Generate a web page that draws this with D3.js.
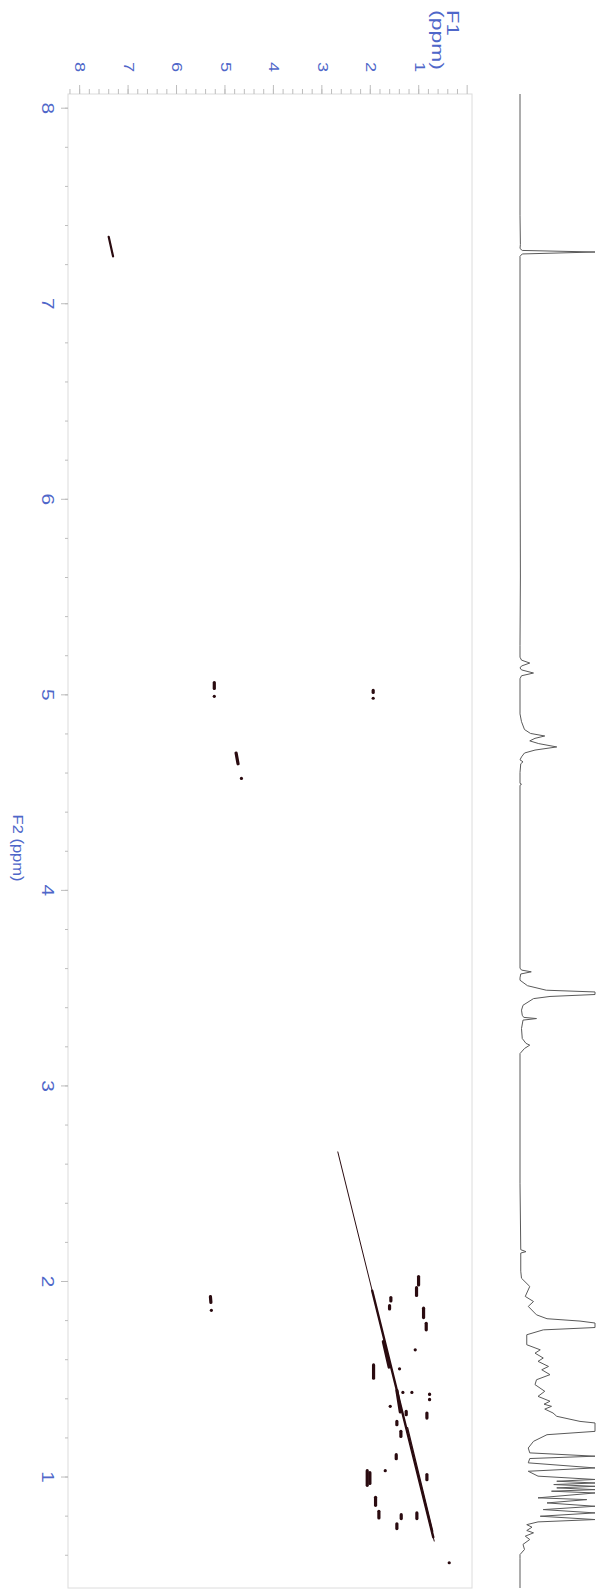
<!DOCTYPE html>
<html>
<head>
<meta charset="utf-8">
<script src="https://cdn.jsdelivr.net/npm/d3@7"></script>
<style>
  body { margin: 0; background: #fff; }
  svg { display: block; font-family: "Liberation Sans", Arial, sans-serif; }
</style>
</head>
<body>
<div id="chart"></div>
<script>
// tick labels (ppm)
const f1Labels = [8, 7, 6, 5, 4, 3, 2, 1];
const f2Labels = [8, 7, 6, 5, 4, 3, 2, 1];

// 1D proton trace along F2: [ppm, intensity]
const trace = [
  [8.07, 0], [7.45, 0], [7.30, 0.5], [7.28, -1], [7.27, 3], [7.262, 300], [7.252, 3], [7.24, 0],
  [6.50, 0], [5.60, 0.5], [5.25, 0], [5.19, 0], [5.175, 2], [5.160, 13], [5.145, 2], [5.135, 0],
  [5.125, 2], [5.109, 18], [5.095, 2], [5.08, 0], [4.90, 0], [4.86, 2], [4.82, 6], [4.80, 14],
  [4.787, 33], [4.775, 20], [4.762, 13], [4.748, 25], [4.731, 49], [4.715, 20], [4.70, 6],
  [4.68, 2], [4.665, 0], [4.655, 4], [4.645, 1], [4.60, 0], [4.545, 0], [4.54, 2], [4.535, 0],
  [3.80, 0], [3.60, -1], [3.590, 2], [3.581, 15], [3.570, 1], [3.550, -4], [3.538, 0], [3.51, 10],
  [3.487, 35], [3.478, 300], [3.465, 300], [3.455, 40], [3.444, 18], [3.410, 4], [3.385, 2],
  [3.359, 3], [3.348, 5], [3.342, 22], [3.334, 4], [3.291, 2], [3.240, 3], [3.215, 8], [3.206, 13],
  [3.189, 6], [3.163, 0], [2.50, 0], [2.16, 1], [2.150, 8], [2.143, 1], [2.05, 1], [2.014, 2],
  [1.972, 13], [1.921, 7], [1.895, 18], [1.870, 11], [1.827, 22], [1.807, 36], [1.795, 80],
  [1.785, 300], [1.762, 300], [1.755, 60], [1.750, 31], [1.725, 9], [1.674, 9], [1.648, 27],
  [1.631, 20], [1.606, 31], [1.589, 24], [1.563, 38], [1.546, 29], [1.521, 40], [1.495, 22],
  [1.470, 20], [1.436, 33], [1.410, 24], [1.385, 40], [1.370, 32], [1.359, 42], [1.345, 33],
  [1.325, 44], [1.308, 49], [1.282, 80], [1.274, 300], [1.231, 300], [1.214, 36], [1.180, 18],
  [1.146, 11], [1.121, 13], [1.104, 300], [1.092, 13], [1.070, 11], [1.044, 300], [1.027, 11],
  [1.002, 24], [0.985, 300], [0.976, 49], [0.967, 300], [0.959, 45], [0.950, 300], [0.942, 49],
  [0.933, 300], [0.925, 42], [0.916, 300], [0.891, 24], [0.882, 89], [0.865, 36], [0.848, 300],
  [0.831, 31], [0.814, 300], [0.797, 27], [0.780, 300], [0.768, 24], [0.754, 9], [0.741, 16],
  [0.724, 9], [0.712, 18], [0.695, 7], [0.678, 13], [0.653, 4], [0.627, 6], [0.601, 0],
  [0.58, -1], [0.43, -1]
];

// diagonal contour pieces: [f1 start, f2 start, f1 end, f2 end]
const diagonal = [
  [2.66, 2.66, 0.67, 0.67],
  [1.95, 1.95, 0.69, 0.69],
  [1.22, 1.25, 0.70, 0.72]
];

// cross peaks (small contour pieces): [f1 start, f2 start, f1 end, f2 end]
const crossPeaks = [
  [7.39, 7.34, 7.30, 7.24],
  [5.21, 5.06, 5.21, 5.03], [5.21, 4.99, 5.21, 4.99],
  [1.93, 5.02, 1.93, 5.01], [1.93, 4.98, 1.93, 4.98],
  [4.76, 4.70, 4.72, 4.645], [4.65, 4.57, 4.65, 4.57],
  [5.29, 1.92, 5.28, 1.89], [5.27, 1.85, 5.27, 1.85],
  [0.993, 2.023, 0.993, 1.980], [1.035, 1.966, 1.035, 1.926],
  [1.565, 1.915, 1.565, 1.898], [1.592, 1.874, 1.592, 1.857],
  [0.890, 1.861, 0.890, 1.813], [0.835, 1.784, 0.835, 1.750],
  [1.062, 1.648, 1.062, 1.648], [1.922, 1.571, 1.922, 1.503],
  [1.386, 1.551, 1.386, 1.551], [1.131, 1.430, 1.131, 1.430],
  [0.766, 1.422, 0.766, 1.420], [0.766, 1.395, 0.766, 1.393],
  [1.317, 1.430, 1.317, 1.430], [1.578, 1.359, 1.578, 1.359],
  [1.248, 1.333, 1.248, 1.316], [0.821, 1.325, 0.821, 1.299],
  [1.441, 1.282, 1.441, 1.265], [1.358, 1.231, 1.358, 1.205],
  [1.454, 1.112, 1.454, 1.091], [2.053, 1.030, 2.053, 0.955],
  [1.998, 1.020, 1.998, 0.965], [1.681, 1.030, 1.681, 1.030],
  [0.821, 1.010, 0.821, 0.984], [1.881, 0.894, 1.881, 0.853],
  [1.812, 0.822, 1.812, 0.788], [1.351, 0.805, 1.351, 0.785],
  [1.028, 0.814, 1.028, 0.785], [1.441, 0.758, 1.441, 0.734],
  [0.360, 0.559, 0.360, 0.559],
  [1.72, 1.69, 1.60, 1.56], [1.44, 1.44, 1.37, 1.33]
];

const width = 599,
  height = 1589;

const axisBlue = "#4f67c9",
  tickGray = "#bdbdbd",
  contourColor = "#2a0b10";

// the whole picture is turned a quarter turn clockwise and stretched along the page
const textTurn = (x, y, stretch) => `translate(${x},${y}) rotate(90) scale(${stretch},1)`;

const svg = d3.select("#chart")
  .append("svg")
  .attr("width", width)
  .attr("height", height);

svg.append("rect").attr("width", width).attr("height", height).attr("fill", "#fff");

// F1 runs left -> right (8 -> 0), F2 runs top -> bottom (8 -> 0.4)
const f1 = d3.scaleLinear().domain([8.23, -0.11]).range([68, 472]);
const f2 = d3.scaleLinear().domain([8.07, 0.43]).range([94, 1588]);
const amp = d3.scaleLinear().domain([0, 100]).range([520, 595]).clamp(true);

// plot frame
svg.append("rect")
  .attr("x", f1.range()[0])
  .attr("y", f2.range()[0])
  .attr("width", f1.range()[1] - f1.range()[0])
  .attr("height", f2.range()[1] - f2.range()[0])
  .attr("fill", "none")
  .attr("stroke", "#dcdcdc");

// minor ticks every 0.2 ppm
const f1Minor = d3.range(0, 41).map(i => +(8.2 - i * 0.2).toFixed(1));
const f2Minor = d3.range(0, 38).map(i => +(8.0 - i * 0.2).toFixed(1));

const topMinor = svg.append("g")
  .attr("transform", `translate(0,${f2.range()[0]})`)
  .call(d3.axisTop(f1).tickValues(f1Minor).tickSize(5).tickFormat(""));
const leftMinor = svg.append("g")
  .attr("transform", `translate(${f1.range()[0]},0)`)
  .call(d3.axisLeft(f2).tickValues(f2Minor).tickSize(3).tickFormat(""));

// major ticks + labels
const topAxis = svg.append("g")
  .attr("transform", `translate(0,${f2.range()[0]})`)
  .call(d3.axisTop(f1).tickValues(f1Labels.concat([0])).tickSize(9)
    .tickFormat(d => d === 0 ? "" : d));
const leftAxis = svg.append("g")
  .attr("transform", `translate(${f1.range()[0]},0)`)
  .call(d3.axisLeft(f2).tickValues(f2Labels).tickSize(7).tickPadding(0));

[topMinor, leftMinor, topAxis, leftAxis].forEach(g => {
  g.select(".domain").remove();
  g.selectAll(".tick line").attr("stroke", tickGray);
});

topAxis.selectAll(".tick text")
  .attr("transform", textTurn(1, -27, 1.3))
  .attr("x", 0).attr("y", 0).attr("dy", null)
  .attr("text-anchor", "middle")
  .attr("dominant-baseline", "central")
  .attr("font-size", 14)
  .attr("fill", axisBlue);

leftAxis.selectAll(".tick text")
  .attr("transform", textTurn(-20, 0, 1.3))
  .attr("x", 0).attr("y", 0).attr("dy", null)
  .attr("text-anchor", "middle")
  .attr("dominant-baseline", "central")
  .attr("font-size", 16)
  .attr("fill", axisBlue);

// axis titles
svg.append("text")
  .attr("transform", textTurn(18, 848, 1.1))
  .attr("text-anchor", "middle")
  .attr("dominant-baseline", "central")
  .attr("font-size", 15)
  .attr("fill", axisBlue)
  .text("F2 (ppm)");

const f1Title = svg.append("g").attr("fill", axisBlue).attr("font-size", 17);
f1Title.append("text").attr("transform", textTurn(447, 10, 1.3)).text("F1");
f1Title.append("text").attr("transform", textTurn(432, 10, 1.35)).text("(ppm)");

// 1D spectrum on the right
const traceLine = d3.line().x(d => amp(d[1])).y(d => f2(d[0]));
svg.append("path")
  .datum(trace)
  .attr("fill", "none")
  .attr("stroke", "#5a5a5a")
  .attr("stroke-width", 1)
  .attr("stroke-linejoin", "round")
  .attr("d", traceLine);

// contours
const gContour = svg.append("g")
  .attr("stroke", contourColor)
  .attr("stroke-linecap", "round");

gContour.selectAll("line.diag")
  .data(diagonal)
  .join("line")
  .attr("class", "diag")
  .attr("x1", d => f1(d[0])).attr("y1", d => f2(d[1]))
  .attr("x2", d => f1(d[2])).attr("y2", d => f2(d[3]))
  .attr("stroke-width", (d, i) => [1, 2.4, 1.3][i]);

gContour.selectAll("line.cross")
  .data(crossPeaks)
  .join("line")
  .attr("class", "cross")
  .attr("x1", d => f1(d[0])).attr("y1", d => f2(d[1]))
  .attr("x2", d => f1(d[2])).attr("y2", d => f2(d[3]))
  .attr("stroke-width", (d, i) => i === 0 ? 2.2 : 3.2);
</script>
</body>
</html>
